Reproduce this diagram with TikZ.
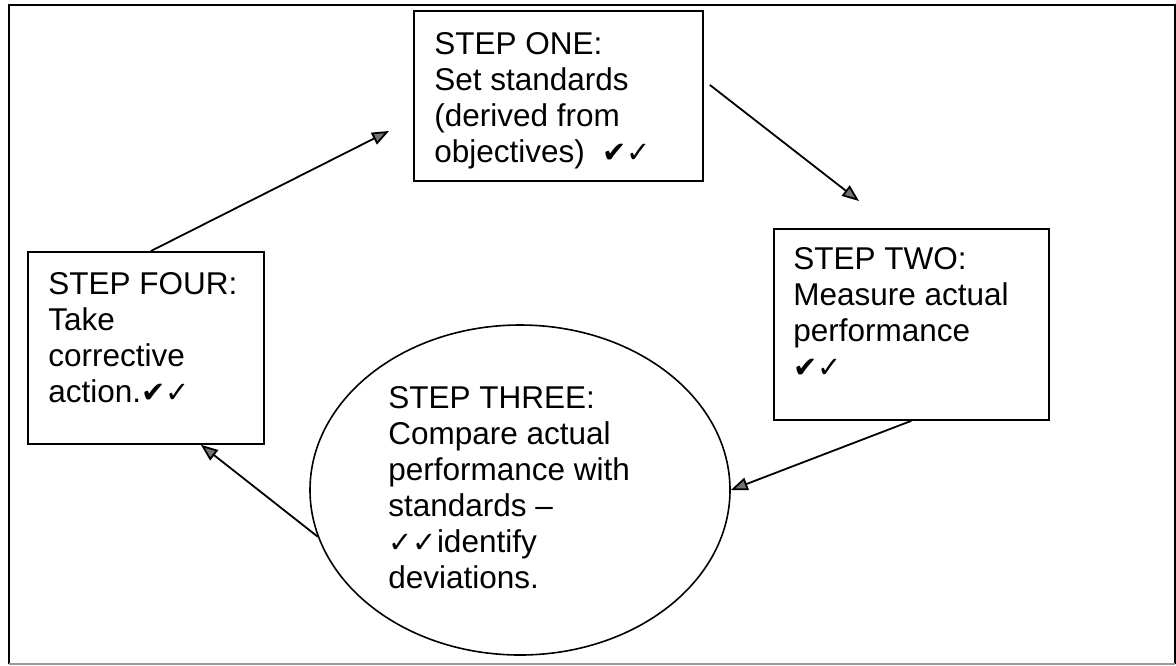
\documentclass[tikz,border=0pt]{standalone}
\usepackage{fontspec}
\setmainfont{Liberation Sans}
\newfontfamily\tickfont{DejaVu Sans}
\usetikzlibrary{shapes.geometric,arrows.meta}
\newcommand{\ticks}{{\tickfont\fontsize{14.5}{14.5}\selectfont ✔✓}}
\newcommand{\thinticks}{{\tickfont\fontsize{14.5}{14.5}\selectfont ✓✓}}
\lineskiplimit=-20pt

\begin{document}
\begin{tikzpicture}[x=0.5pt, y=-0.5pt,
  stepbox/.style={draw, line width=0.9pt, rectangle, anchor=north west, inner sep=0pt},
  steptext/.style={anchor=north west, inner sep=0pt, align=left,
    font=\fontsize{15.75}{18}\selectfont},
  flow/.style={line width=0.9pt, -{Triangle[length=8.5pt,width=6.5pt,fill=black!55]}}]
\useasboundingbox (0,0) rectangle (1176,665);
%% outer frame
\draw[line width=1.3pt] (9,664) -- (9,5) -- (1175,5) -- (1175,664);
\draw[line width=0.6pt, black!40] (9,664) -- (1175,664);
%%------------
\node[stepbox, minimum width=144.5pt, minimum height=85pt] (one) at (413,10) {};
\node[steptext] (onetext) at ([shift={(21,22)}]one.north west)
  {STEP ONE:\\Set standards\\(derived from\\objectives)\ \ \ticks};
%%------------
\node[stepbox, minimum width=137.5pt, minimum height=95.5pt] (two) at (773,228) {};
\node[steptext] (twotext) at ([shift={(20,19)}]two.north west)
  {STEP TWO:\\Measure actual\\performance\\\ticks};
%%------------
\node[draw, ellipse, line width=0.8pt, inner sep=0pt, minimum width=210pt, minimum height=165pt] (three) at (520,490) {};
\node[steptext] (threetext) at ([shift={(-132,-104)}]three.center)
  {STEP THREE:\\Compare actual\\performance with\\standards --\\\thinticks identify\\deviations.};
%%------------
\node[stepbox, minimum width=118pt, minimum height=96pt] (four) at (27,251) {};
\node[steptext] (fourtext) at ([shift={(21,21)}]four.north west)
  {STEP FOUR:\\Take\\corrective\\action.\ticks};
%%------------
\coordinate (tipone) at (389,131);
\coordinate (tiptwo) at (859,201);
\draw[flow] ([xshift=2.5pt]four.north) -- (tipone);
\draw[flow] ([shift={(3pt,5.5pt)}]one.east) -- (tiptwo);
\draw[flow] (two.south) -- (three.east);
\draw[flow] (three.193) -- ([xshift=27.5pt]four.south);
\end{tikzpicture}
\end{document}
